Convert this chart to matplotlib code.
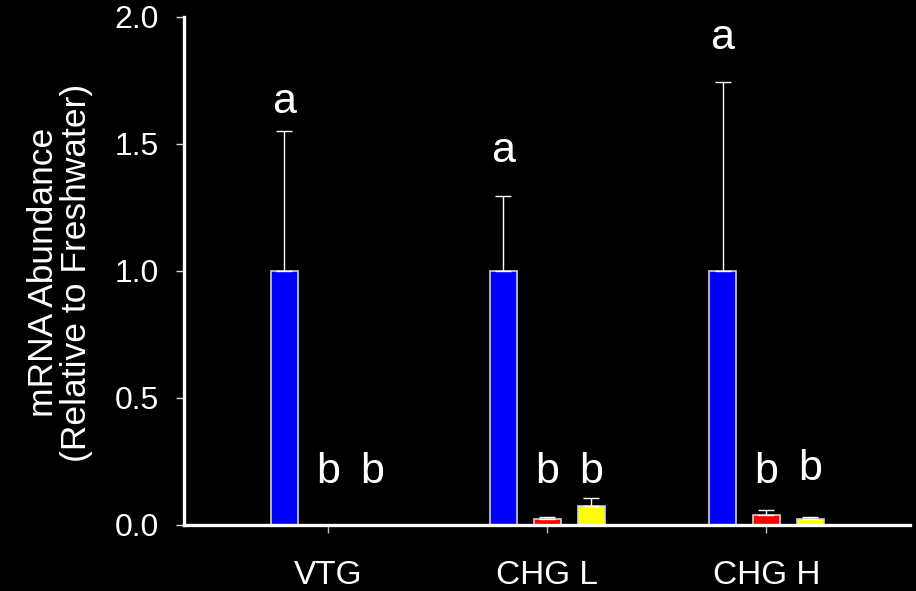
import numpy as np
import matplotlib
matplotlib.use("Agg")
import matplotlib.pyplot as plt

plt.rcParams['font.family'] = ['Liberation Sans', 'DejaVu Sans']

# 資料
groups = ["VTG", "CHG L", "CHG H"]
series_colors = ["#0000ff", "#ff0000", "#ffff00"]
means = [
    [1.0, 1.0, 1.0],        # blue
    [0.0, 0.022, 0.038],    # red
    [0.0, 0.074, 0.022],    # yellow
]
errs = [
    [0.551, 0.295, 0.745],
    [0.0, 0.008, 0.022],
    [0.0, 0.031, 0.008],
]
letters = [
    ["a", "a", "a"],
    ["b", "b", "b"],
    ["b", "b", "b"],
]
letter_y = [
    [1.62, 1.43, 1.875],
    [0.166, 0.166, 0.166],
    [0.166, 0.166, 0.176],
]

fig = plt.figure(figsize=(9.16, 5.91), dpi=100, facecolor="black")
ax = fig.add_axes([0.2009, 0.1117, 0.7925, 0.8596])
ax.set_facecolor("black")

x = np.arange(len(groups))
offsets = [-0.2, 0.0, 0.2]
width = 0.123

for i in range(3):
    xs = x + offsets[i]
    ax.bar(xs, means[i], width=width, color=series_colors[i],
           edgecolor="#d0d0d0", linewidth=1.2, zorder=2)
    up = np.array(errs[i])
    mask = up > 0
    ax.errorbar(xs[mask], np.array(means[i])[mask],
                yerr=[np.zeros(mask.sum()), up[mask]],
                fmt="none", ecolor="white", elinewidth=1, capsize=6,
                capthick=1, zorder=3)
    for j in range(3):
        ax.text(xs[j], letter_y[i][j], letters[i][j], ha="center",
                va="baseline", color="white", fontsize=31)

ax.set_xlim(-0.658, 2.655)
ax.set_ylim(0, 2.0)
ax.set_yticks([0.0, 0.5, 1.0, 1.5, 2.0])
ax.set_yticklabels(["0.0", "0.5", "1.0", "1.5", "2.0"])
ax.set_xticks(x)
ax.set_xticklabels(groups)

for s in ["top", "right"]:
    ax.spines[s].set_visible(False)
for s in ["left", "bottom"]:
    ax.spines[s].set_color("white")
    ax.spines[s].set_linewidth(2.4)
    ax.spines[s].set_zorder(4)

ax.tick_params(axis="y", colors="#d8d8d8", labelcolor="white", length=6,
               width=1, labelsize=23, pad=12)
ax.tick_params(axis="x", colors="#c0c0c0", labelcolor="white", length=6,
               width=1, labelsize=24, pad=19)

fig.text(0.066, 0.539, "mRNA Abundance\n(Relative to Freshwater)",
         rotation=90, ha="center", va="center", color="white",
         fontsize=25.5, linespacing=1.0)

plt.savefig("out.png", dpi=100, facecolor="black")
